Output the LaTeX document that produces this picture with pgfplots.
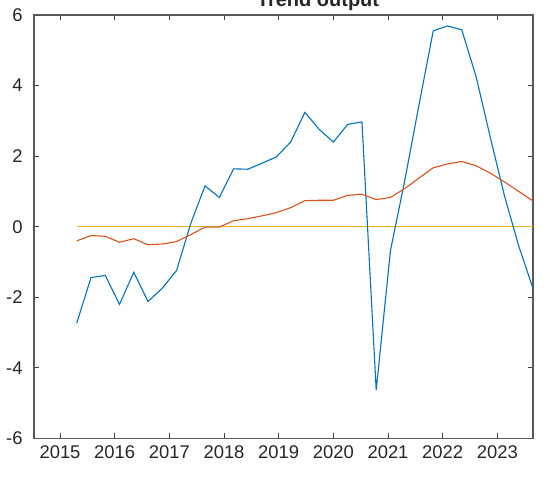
\documentclass[border=0pt]{standalone}
\usepackage{fontspec}
\setmainfont{Liberation Sans}
\usepackage{pgfplots}
\pgfplotsset{compat=1.18}

\definecolor{mblue}{rgb}{0,0.447,0.741}
\definecolor{morange}{rgb}{0.85,0.325,0.098}
\definecolor{myellow}{rgb}{0.929,0.694,0.125}

\begin{document}
\begin{tikzpicture}
\begin{axis}[
    name=ax,
    scale only axis,
    width=249.5pt, height=211.75pt,
    xmin=2014.524, xmax=2023.652,
    ymin=-6, ymax=6,
    xtick={2015,2016,...,2023},
    ytick={-6,-4,...,6},
    tick align=inside,
    major tick length=2.5pt,
    /pgf/number format/assume math mode=true,
    /pgf/number format/1000 sep={},
    ticklabel style={font=\fontsize{9.2}{10}\selectfont, text=black!85},
    yticklabel style={xshift=-2.2pt},
    axis line style={black!65, line width=0.6pt},
    tick style={black!75, line width=0.5pt},
]

% zero line
\addplot[myellow, line width=0.5pt] coordinates {
    (2015.306,0) (2023.652,0)
};

% trend output
\addplot[mblue, line width=0.55pt] coordinates {
    (2015.306,-2.73) (2015.567,-1.44) (2015.828,-1.38) (2016.088,-2.20)
    (2016.349,-1.29) (2016.610,-2.12) (2016.871,-1.74) (2017.132,-1.24)
    (2017.393,0.10)  (2017.653,1.16)  (2017.914,0.83)  (2018.175,1.64)
    (2018.436,1.63)  (2018.697,1.80)  (2018.958,1.98)  (2019.219,2.40)
    (2019.479,3.24)  (2019.740,2.76)  (2020.001,2.40)  (2020.262,2.90)
    (2020.523,2.97)  (2020.784,-4.63) (2021.044,-0.68) (2021.305,1.30)
    (2021.566,3.45)  (2021.827,5.55)  (2022.088,5.69)  (2022.349,5.58)
    (2022.610,4.26)  (2022.870,2.54)  (2023.131,0.87)  (2023.392,-0.55)
    (2023.652,-1.75)
};

% smoothed
\addplot[morange, line width=0.55pt] coordinates {
    (2015.306,-0.40) (2015.567,-0.25) (2015.828,-0.27) (2016.088,-0.44)
    (2016.349,-0.34) (2016.610,-0.51) (2016.871,-0.49) (2017.132,-0.42)
    (2017.393,-0.22) (2017.653,-0.01) (2017.914,-0.01) (2018.175,0.17)
    (2018.436,0.23)  (2018.697,0.31)  (2018.958,0.40)  (2019.219,0.54)
    (2019.479,0.74)  (2019.740,0.75)  (2020.001,0.75)  (2020.262,0.89)
    (2020.523,0.92)  (2020.784,0.77)  (2021.044,0.83)  (2021.305,1.08)
    (2021.566,1.38)  (2021.827,1.67)  (2022.088,1.78)  (2022.349,1.85)
    (2022.610,1.73)  (2022.870,1.52)  (2023.131,1.27)  (2023.392,1.00)
    (2023.652,0.73)
};
\end{axis}

% title sits partly above the page edge, as in the reference
\node[anchor=base, font=\fontsize{10}{12}\selectfont\bfseries, text=black!85]
    at ([xshift=142pt,yshift=4pt]ax.north west) {Trend output};

\pgfresetboundingbox
\path[use as bounding box] ([xshift=-17pt,yshift=-19.75pt]ax.south west)
    rectangle ([xshift=6pt,yshift=7.5pt]ax.north east);
\end{tikzpicture}
\end{document}
